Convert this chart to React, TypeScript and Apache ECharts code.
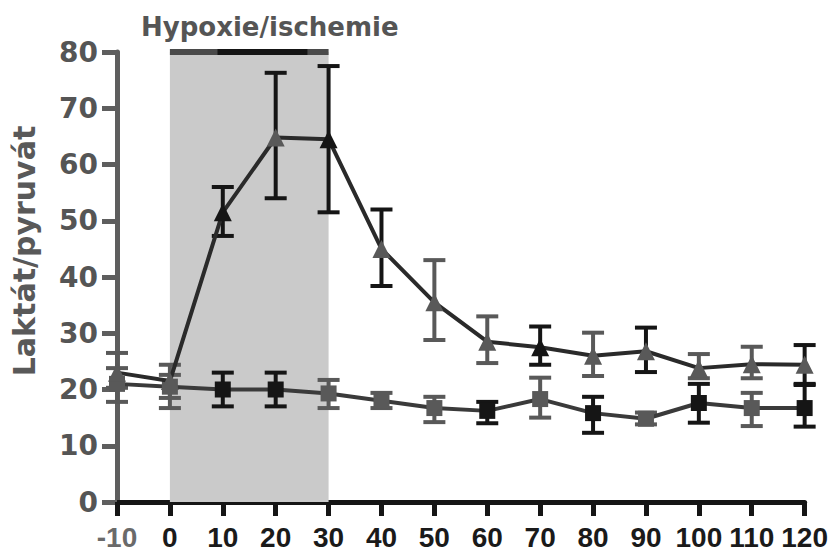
import React, { useEffect, useRef } from "react";
import * as echarts from "echarts";

// ---- data ----
const xValues = [-10, 0, 10, 20, 30, 40, 50, 60, 70, 80, 90, 100, 110, 120];
const xTicks = [-10, 0, 10, 20, 30, 40, 50, 60, 70, 80, 90, 100, 110, 120];
const yTicks = [0, 10, 20, 30, 40, 50, 60, 70, 80];

const hypoxiaMean = [23, 21.5, 51.5, 64.8, 64.5, 45, 35.5, 28.5, 27.5, 26, 26.8, 23.8, 24.5, 24.4];
const hypoxiaUpper = [26.5, 24.4, 56, 76.3, 77.5, 52, 43, 33, 31.2, 30.1, 31, 26.3, 27.6, 27.9];
const hypoxiaLower = [20.3, 18.5, 47.3, 54, 51.5, 38.4, 28.8, 24.7, 24.4, 22.4, 23.1, 22, 22, 21];

const controlMean = [21, 20.5, 20, 20, 19.3, 18, 16.7, 16.2, 18.3, 15.8, 14.8, 17.6, 16.7, 16.7];
const controlUpper = [23.8, 22.6, 23, 23, 21.7, 19.4, 18.7, 17.8, 22.1, 18.7, 15.9, 21, 19.4, 20.8];
const controlLower = [17.8, 16.7, 17, 17, 16.7, 16.7, 14.2, 14, 15, 12.3, 13.8, 14.1, 13.5, 13.4];

const ischemiaStart = 0;
const ischemiaEnd = 30;
const titleText = "Hypoxie/ischemie";
const yAxisTitle = "Laktát/pyruvát";

// ---- styles ----
const BLACK = "#151515";
const GRAY = "#595959";
const hypoxiaTones = [GRAY, GRAY, BLACK, GRAY, BLACK, GRAY, GRAY, GRAY, BLACK, GRAY, GRAY, GRAY, GRAY, GRAY];
const hypoxiaBarTones = [GRAY, GRAY, BLACK, BLACK, BLACK, BLACK, GRAY, GRAY, BLACK, GRAY, BLACK, GRAY, GRAY, BLACK];
const controlTones = [GRAY, GRAY, BLACK, BLACK, GRAY, GRAY, GRAY, BLACK, GRAY, BLACK, GRAY, BLACK, GRAY, BLACK];
const FONT = "'DejaVu Sans', Verdana, sans-serif";
const FONT_X = "'Liberation Sans', Arial, Helvetica, sans-serif";

function errorSeries(lower: number[], upper: number[], tones: string[], z: number) {
  return {
    type: "custom",
    z,
    silent: true,
    encode: { x: 0, y: [1, 2] },
    data: xValues.map((x, i) => [x, lower[i], upper[i]]),
    renderItem: (params: any, api: any) => {
      const x = api.value(0);
      const pLo = api.coord([x, api.value(1)]);
      const pHi = api.coord([x, api.value(2)]);
      const half = 11;
      const color = tones[params.dataIndex];
      const st = { stroke: color, lineWidth: 4 };
      return {
        type: "group",
        children: [
          { type: "line", shape: { x1: pLo[0], y1: pLo[1], x2: pHi[0], y2: pHi[1] }, style: st },
          { type: "line", shape: { x1: pHi[0] - half, y1: pHi[1], x2: pHi[0] + half, y2: pHi[1] }, style: st },
          { type: "line", shape: { x1: pLo[0] - half, y1: pLo[1], x2: pLo[0] + half, y2: pLo[1] }, style: st },
        ],
      };
    },
  };
}

export default function App() {
  const ref = useRef<HTMLDivElement>(null);
  useEffect(() => {
    if (!ref.current) return;
    const chart = echarts.init(ref.current, null, { renderer: "svg" });
    chart.setOption({
      animation: false,
      backgroundColor: "#ffffff",
      title: {
        text: titleText,
        left: 136,
        top: 9,
        textStyle: { fontFamily: FONT, fontSize: 26, fontWeight: "bold", color: "#555555" },
      },
      graphic: [
        {
          type: "text",
          x: 24,
          y: 251,
          rotation: Math.PI / 2,
          style: {
            text: yAxisTitle,
            fontFamily: FONT,
            fontSize: 30,
            fontWeight: "bold",
            fill: "#595959",
            align: "center",
            verticalAlign: "middle",
          },
        },
      ],
      grid: { left: 117, right: 26, top: 52, bottom: 52, containLabel: false },
      xAxis: {
        type: "value",
        min: -10,
        max: 120,
        interval: 10,
        splitLine: { show: false },
        axisLine: { onZero: false, lineStyle: { color: BLACK, width: 5 } },
        axisTick: { length: 14, lineStyle: { color: BLACK, width: 5 } },
        axisLabel: {
          margin: 21,
          fontFamily: FONT_X,
          fontSize: 28,
          fontWeight: "bold",
          color: "#1a1a1a",
          formatter: (v: number) => (xTicks.includes(v) ? (v < 0 ? "{g|" + v + "}" : String(v)) : ""),
          rich: { g: { fontFamily: FONT_X, fontSize: 28, fontWeight: "bold", color: "#6a6a6a" } },
        },
      },
      yAxis: {
        type: "value",
        min: 0,
        max: 80,
        interval: 10,
        splitLine: { show: false },
        axisLine: { onZero: false, lineStyle: { color: "#5e5e5e", width: 5 } },
        axisTick: { length: 15, lineStyle: { color: "#5e5e5e", width: 5 } },
        axisLabel: {
          margin: 19,
          fontFamily: FONT,
          fontSize: 28,
          fontWeight: "bold",
          color: "#555555",
          formatter: (v: number) => (yTicks.includes(v) ? String(v) : ""),
        },
      },
      series: [
        {
          type: "line",
          z: 1,
          silent: true,
          symbol: "none",
          data: [],
          markArea: {
            silent: true,
            itemStyle: { color: "#cacaca" },
            data: [[{ xAxis: ischemiaStart, yAxis: 80 }, { xAxis: ischemiaEnd, yAxis: 0 }]],
          },
        },
        {
          type: "line",
          z: 2,
          silent: true,
          symbol: "none",
          lineStyle: { color: "#4a4a4a", width: 6 },
          data: [
            [ischemiaStart, 80],
            [ischemiaEnd, 80],
          ],
        },
        {
          type: "line",
          z: 2,
          silent: true,
          symbol: "none",
          lineStyle: { color: BLACK, width: 6 },
          data: [
            [ischemiaStart + 9, 80],
            [ischemiaEnd - 4, 80],
          ],
        },
        errorSeries(controlLower, controlUpper, controlTones, 3),
        errorSeries(hypoxiaLower, hypoxiaUpper, hypoxiaBarTones, 3),
        {
          type: "line",
          z: 4,
          symbol: "rect",
          symbolSize: 16,
          lineStyle: { color: "#3a3a3a", width: 4 },
          data: xValues.map((x, i) => ({
            value: [x, controlMean[i]],
            itemStyle: { color: controlTones[i] },
          })),
        },
        {
          type: "line",
          z: 5,
          symbol: "triangle",
          symbolSize: 18,
          lineStyle: { color: "#2a2a2a", width: 4 },
          data: xValues.map((x, i) => ({
            value: [x, hypoxiaMean[i]],
            itemStyle: { color: hypoxiaTones[i] },
          })),
        },
      ],
    });
    return () => chart.dispose();
  }, []);
  return (
    <div
      ref={ref}
      style={{ position: "fixed", left: 0, top: 0, width: 831, height: 554, background: "#fff" }}
    />
  );
}
